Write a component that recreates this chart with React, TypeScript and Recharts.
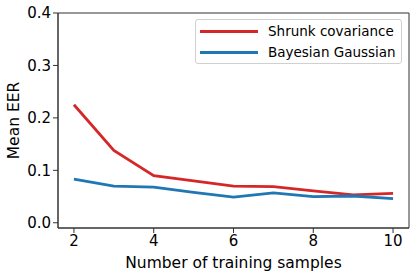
import React from "react";
import { LineChart, Line, XAxis, YAxis, ReferenceArea } from "recharts";

const samples = [2, 3, 4, 5, 6, 7, 8, 9, 10];
const shrunk = [0.225, 0.138, 0.09, 0.08, 0.07, 0.069, 0.061, 0.053, 0.056];
const bayes = [0.083, 0.07, 0.068, 0.058, 0.049, 0.057, 0.05, 0.051, 0.046];
const xTicks = [2, 4, 6, 8, 10];
const yTicks = [0, 0.1, 0.2, 0.3, 0.4];
const seriesNames = ["Shrunk covariance", "Bayesian Gaussian"];
const colors = ["#d62728", "#1f77b4"];

const data = samples.map((n, i) => ({ n, shrunk: shrunk[i], bayes: bayes[i] }));

const FONT = "'DejaVu Sans', sans-serif";

const LegendBox = () => (
  <div
    style={{
      position: "absolute",
      left: 195,
      top: 19,
      width: 207,
      height: 45,
      boxSizing: "border-box",
      border: "1px solid #d0d0d0",
      borderRadius: 3,
      background: "rgba(255,255,255,0.8)",
      fontFamily: FONT,
      fontSize: 13.5,
      color: "#000",
    }}
  >
    {seriesNames.map((name, i) => (
      <div
        key={name}
        style={{
          position: "absolute",
          left: 4,
          top: i === 0 ? 1 : 22,
          height: 20,
          display: "flex",
          alignItems: "center",
          whiteSpace: "nowrap",
        }}
      >
        <div style={{ width: 58, height: 3, background: colors[i], marginRight: 10 }} />
        <span>{name}</span>
      </div>
    ))}
  </div>
);

export default function App() {
  return (
    <div style={{ position: "absolute", left: 0, top: 0, width: 416, height: 276, background: "#fff" }}>
      <LineChart width={416} height={276} data={data} margin={{ top: 13, right: 7, left: 0, bottom: 0 }}>
        <XAxis
          dataKey="n"
          type="number"
          domain={[1.6, 10.4]}
          ticks={xTicks}
          allowDataOverflow
          height={48}
          tickSize={5}
          tickMargin={2}
          stroke="#333"
          tick={{ fill: "#000", fontSize: 15, fontFamily: FONT }}
          label={{ value: "Number of training samples", position: "insideBottom", offset: 8, fill: "#000", fontSize: 15.5, fontFamily: FONT }}
        />
        <YAxis
          type="number"
          domain={[-0.01, 0.4]}
          ticks={yTicks}
          allowDataOverflow
          width={58}
          tickSize={5}
          tickMargin={2}
          stroke="#333"
          tickFormatter={(v: number) => v.toFixed(1)}
          tick={{ fill: "#000", fontSize: 15, fontFamily: FONT }}
          label={{ value: "Mean EER", angle: -90, position: "insideLeft", offset: 13, style: { textAnchor: "middle" }, fill: "#000", fontSize: 15.5, fontFamily: FONT }}
        />
        <ReferenceArea x1={1.6} x2={10.4} y1={-0.01} y2={0.4} fill="none" stroke="#333" strokeWidth={1} ifOverflow="visible" />
        <Line type="linear" dataKey="shrunk" stroke={colors[0]} strokeWidth={2.8} dot={false} isAnimationActive={false} />
        <Line type="linear" dataKey="bayes" stroke={colors[1]} strokeWidth={2.8} dot={false} isAnimationActive={false} />
      </LineChart>
      <LegendBox />
    </div>
  );
}
